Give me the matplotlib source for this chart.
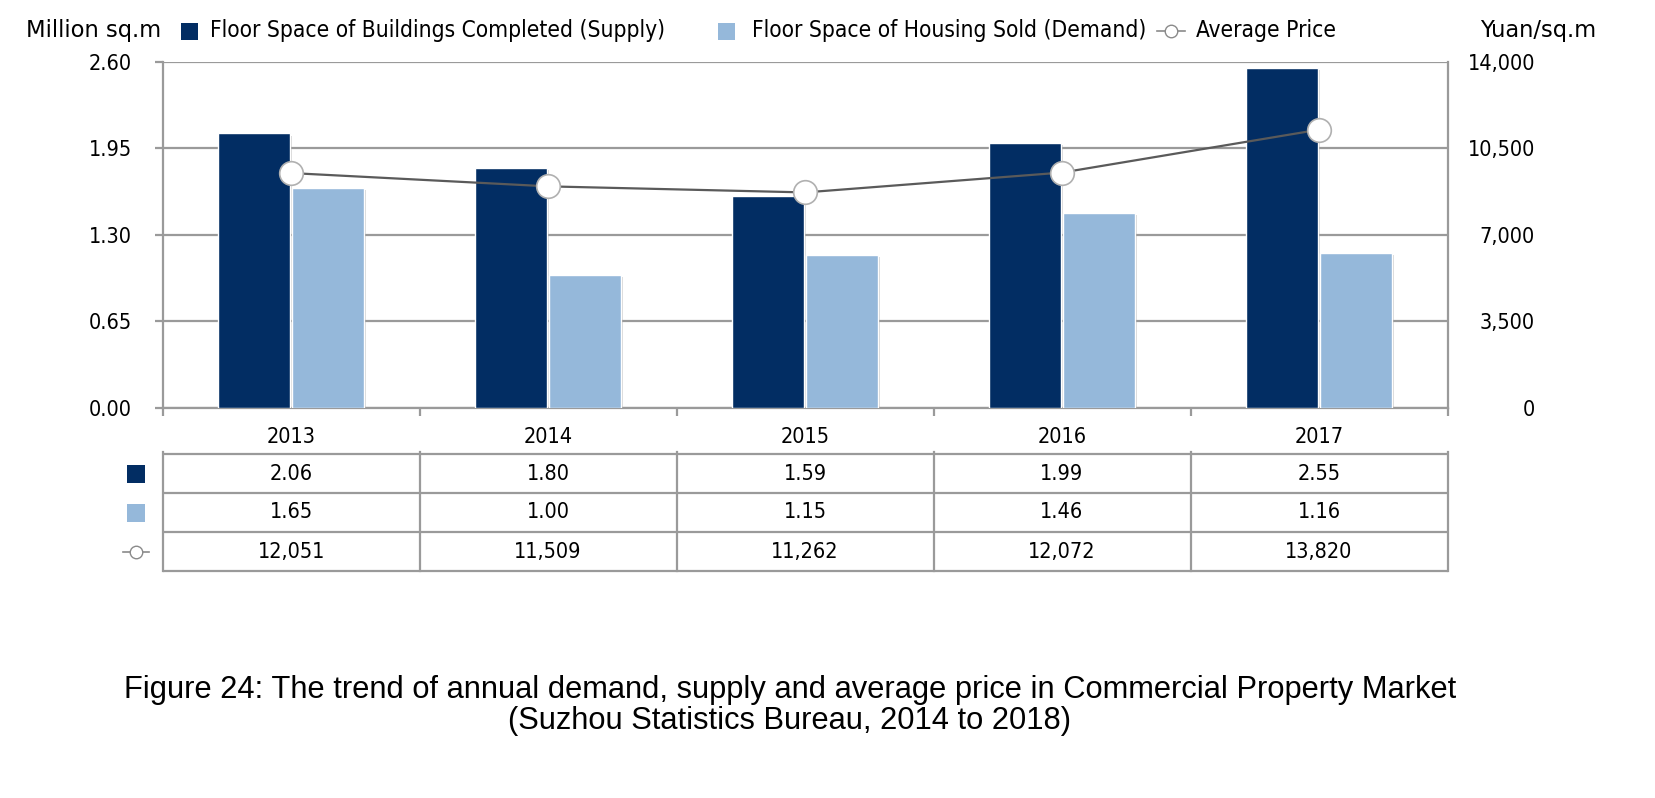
import matplotlib
matplotlib.use("Agg")
import matplotlib.pyplot as plt
import matplotlib.patheffects as pe
from matplotlib.patches import Rectangle
from matplotlib.lines import Line2D
from matplotlib.ticker import FuncFormatter, FixedLocator
import numpy as np

# ---------------- data ----------------
years = ["2013", "2014", "2015", "2016", "2017"]
supply = [2.06, 1.80, 1.59, 1.99, 2.55]
demand = [1.65, 1.00, 1.15, 1.46, 1.16]
price = [12051, 11509, 11262, 12072, 13820]
left_ticks = [0.00, 0.65, 1.30, 1.95, 2.60]
right_ticks = [0, 3500, 7000, 10500, 14000]

legend_labels = ["Floor Space of Buildings Completed (Supply)",
                 "Floor Space of Housing Sold (Demand)",
                 "Average Price"]
left_unit = "Million sq.m"
right_unit = "Yuan/sq.m"
title1 = "Figure 24: The trend of annual demand, supply and average price in Commercial Property Market"
title2 = "(Suzhou Statistics Bureau, 2014 to 2018)"

# ---------------- style ----------------
W, H = 1655, 798
NAVY = "#022d63"
LIGHT = "#95b8da"
GRID = "#9a9a9a"
LINEC = "#5a5a5a"
FONT = dict(family="DejaVu Sans", stretch="condensed")
FS = 15.5
LFS = 16.3

def fx(px):
    return px / W

def fy(py):
    return 1 - py / H

fig = plt.figure(figsize=(W / 100, H / 100), dpi=100)
fig.patch.set_facecolor("white")

L, R, T, B = 162.7, 1447.5, 61.5, 407.8
ax = fig.add_axes([fx(L), fy(B), fx(R) - fx(L), fy(T) - fy(B)])
x = np.arange(len(years))
bw = 0.28
shadow = [pe.SimplePatchShadow(offset=(1.5, -1.5), shadow_rgbFace="#888888", alpha=0.35), pe.Normal()]
b1 = ax.bar(x - bw / 2 - 0.005, supply, bw, color=NAVY, edgecolor="white", linewidth=1.0, zorder=3)
b2 = ax.bar(x + bw / 2 + 0.005, demand, bw, color=LIGHT, edgecolor="white", linewidth=1.0, zorder=3)
for r in list(b1) + list(b2):
    r.set_path_effects(shadow)

ax.set_xlim(-0.5, len(years) - 0.5)
ax.set_ylim(0, 2.60)
ax.yaxis.set_major_locator(FixedLocator(left_ticks))
ax.yaxis.set_major_formatter(FuncFormatter(lambda v, p: f"{v:.2f}"))
ax.grid(axis="y", color=GRID, linewidth=1.6, zorder=0)
ax.set_axisbelow(True)
ax.spines["top"].set_visible(False)
for s in ["left", "right", "bottom"]:
    ax.spines[s].set_color(GRID)
    ax.spines[s].set_linewidth(1.6)
ax.xaxis.set_major_locator(FixedLocator(np.arange(len(years) + 1) - 0.5))
ax.xaxis.set_minor_locator(FixedLocator(x))
ax.set_xticklabels([])
ax.set_xticklabels(years, minor=True, fontsize=FS, **FONT)
ax.tick_params(axis="x", which="major", length=6, width=1.6, color=GRID, direction="out")
ax.tick_params(axis="x", which="minor", length=0, pad=14)
ax.tick_params(axis="y", length=6, width=1.6, color=GRID, pad=16, labelsize=FS)
for t in ax.get_yticklabels():
    t.set_fontstretch("condensed")

# right axis scale labels
ax2 = ax.twinx()
ax2.set_ylim(0, 14000)
ax2.yaxis.set_major_locator(FixedLocator(right_ticks))
ax2.yaxis.set_major_formatter(FuncFormatter(lambda v, p: f"{int(v):,}"))
ax2.tick_params(axis="y", length=0, pad=63, labelsize=FS)
for t in ax2.get_yticklabels():
    t.set_horizontalalignment("right")
    t.set_fontstretch("condensed")
for s in ax2.spines.values():
    s.set_visible(False)

# price line
ax3 = ax.twinx()
ax3.set_ylim(2480, 16600)
ax3.axis("off")
ax3.plot(x, price, color=LINEC, linewidth=1.6, marker="o", markersize=17,
         markerfacecolor="white", markeredgecolor="#b0b0b0", markeredgewidth=1.2, zorder=5)

# ---------------- table ----------------
tT, tB = 454, 571
tax = fig.add_axes([fx(L), fy(tB), fx(R) - fx(L), fy(tT) - fy(tB)])
tax.set_xlim(-0.5, len(years) - 0.5)
tax.set_ylim(3, 0)
tax.axis("off")
for yy in range(4):
    tax.plot([-0.5, len(years) - 0.5], [yy, yy], color=GRID, lw=1.6, solid_capstyle="butt", clip_on=False)
for xx in np.arange(len(years) + 1) - 0.5:
    tax.plot([xx, xx], [-0.05, 3], color=GRID, lw=1.6, clip_on=False)
rows = [[f"{v:.2f}" for v in supply], [f"{v:.2f}" for v in demand], [f"{v:,}" for v in price]]
for ri, row in enumerate(rows):
    for ci, txt in enumerate(row):
        tax.text(ci, ri + 0.5, txt, ha="center", va="center", fontsize=FS, **FONT)

# row header icons (figure pixel coords)
def square(cx, cy, s, color):
    fig.add_artist(Rectangle((fx(cx - s / 2), fy(cy + s / 2)), s / W, s / H,
                             transform=fig.transFigure, facecolor=color, edgecolor="none"))

def line_icon(cx, cy, w, ms):
    fig.add_artist(Line2D([fx(cx - w / 2), fx(cx + w / 2)], [fy(cy), fy(cy)], transform=fig.transFigure,
                          color="#8a8a8a", lw=1.2))
    fig.add_artist(Line2D([fx(cx)], [fy(cy)], transform=fig.transFigure, marker="o", markersize=ms,
                          markerfacecolor="white", markeredgecolor="#8a8a8a", markeredgewidth=1.0, lw=0))

rh = (tB - tT) / 3
square(136, tT + rh * 0.5, 18, NAVY)
square(136, tT + rh * 1.5, 18, LIGHT)
line_icon(136, tT + rh * 2.5, 26, 9)

# ---------------- top legend ----------------
ly = 31
fig.text(fx(161), fy(ly), left_unit, ha="right", va="center", fontsize=LFS, family="DejaVu Sans")
square(189, ly, 17, NAVY)
fig.text(fx(210), fy(ly), legend_labels[0], ha="left", va="center", fontsize=LFS, **FONT)
square(726, ly, 17, LIGHT)
fig.text(fx(752), fy(ly), legend_labels[1], ha="left", va="center", fontsize=LFS, **FONT)
line_icon(1171, ly, 28, 9)
fig.text(fx(1196), fy(ly), legend_labels[2], ha="left", va="center", fontsize=LFS, **FONT)
fig.text(fx(1596), fy(ly), right_unit, ha="right", va="center", fontsize=LFS, family="DejaVu Sans")

# ---------------- caption ----------------
fig.text(fx(790), fy(690), title1, ha="center", va="center", fontsize=22.2, family="Liberation Sans")
fig.text(fx(790), fy(721), title2, ha="center", va="center", fontsize=22.2, family="Liberation Sans")

fig.savefig("out.png", dpi=100, facecolor="white")
